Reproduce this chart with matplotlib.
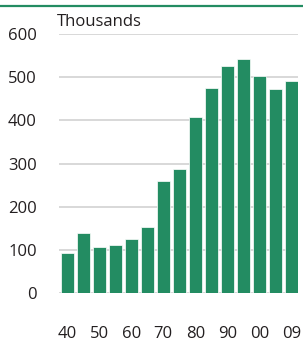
import matplotlib
matplotlib.use("Agg")
import matplotlib.pyplot as plt
from matplotlib.lines import Line2D

years = ["40", "45", "50", "55", "60", "65", "70", "75", "80", "85", "90", "95", "00", "05", "09"]
values = [93, 140, 107, 111, 125, 154, 259, 287, 407, 476, 527, 542, 503, 472, 491]
tick_labels = ["40", "50", "60", "70", "80", "90", "00", "09"]
tick_idx = [0, 2, 4, 6, 8, 10, 12, 14]
yticks = [0, 100, 200, 300, 400, 500, 600]

plt.rcParams['font.family'] = ['Open Sans', 'DejaVu Sans']
green = "#238c62"
text_color = "#231f20"

fig = plt.figure(figsize=(3.03, 3.44), dpi=100)
ax = fig.add_axes([59/303, 1-293/344, (298-59)/303, (293-34)/344])

x = list(range(len(years)))
ax.bar(x, values, width=0.82, color=green, edgecolor="white", linewidth=0.5, zorder=3)
ax.set_xlim(-0.52, 14.42)
ax.set_ylim(0, 600)
ax.set_yticks(yticks)
ax.set_yticklabels([str(v) for v in yticks])
ax.set_xticks(tick_idx)
ax.set_xticklabels(tick_labels)
ax.yaxis.grid(True, color="#d6d6d6", linewidth=1.3, zorder=0)
ax.set_axisbelow(True)
for s in ax.spines.values():
    s.set_visible(False)
ax.tick_params(axis='y', length=0, pad=16, labelsize=12, labelcolor=text_color)
ax.tick_params(axis='x', length=0, pad=24, labelsize=12, labelcolor=text_color)
for lab in ax.get_yticklabels():
    lab.set_horizontalalignment('right')

fig.text(57/303, 1-21.5/344, "Thousands", fontsize=12, color=text_color, va='center', ha='left')
fig.add_artist(Line2D([0, 1], [1-5.5/344, 1-5.5/344], color=green, linewidth=1.6, transform=fig.transFigure))

fig.savefig("out.png", dpi=100)
